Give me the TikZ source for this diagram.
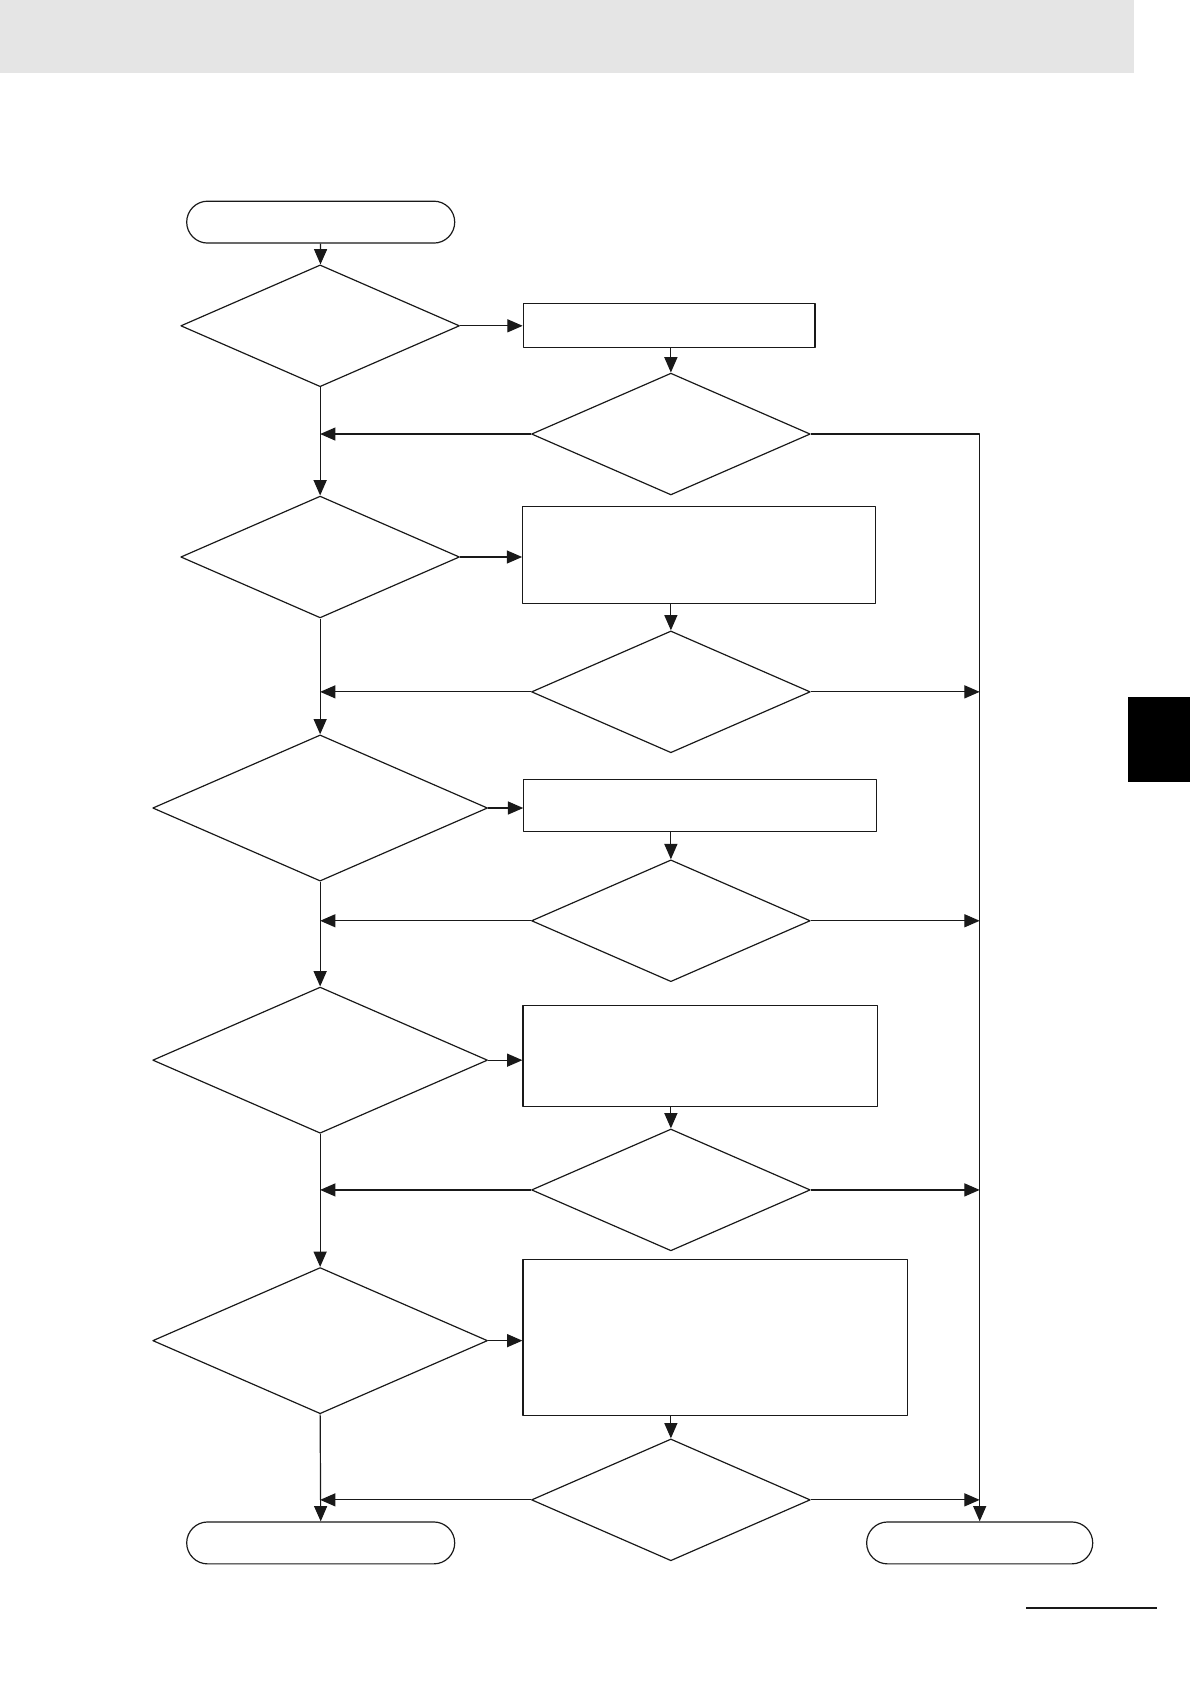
\documentclass[tikz,border=0pt]{standalone}
\usetikzlibrary{shapes.geometric,arrows.meta,positioning}
\begin{document}
\begin{tikzpicture}[line join=round, line width=0.6pt, draw=black!90, >={Triangle[length=2.7mm,width=2.3mm]},
	dec/.style={diamond, draw, inner sep=0pt, minimum width=4.92cm, minimum height=2.15cm},
	decw/.style={dec, minimum width=5.91cm, minimum height=2.58cm},
	act/.style={draw, inner sep=0pt},
	term/.style={draw, rounded corners=0.37cm, inner sep=0pt, minimum width=4.73cm, minimum height=0.74cm}]
	\useasboundingbox (0,0) rectangle (21,-29.72);
	\fill[black!10] (0,0) rectangle (20.01,-1.29);
	\fill[black] (19.91,-12.30) rectangle (21,-13.80);
	\draw[line width=0.8pt] (18.11,-28.38)--(20.42,-28.38);
	% left column
	\node[term] (start) at (5.66,-3.92) {};
	\node[dec] (q1) at (5.65,-5.75) {};
	\node[dec] (q2) at (5.65,-9.83) {};
	\node[decw] (q3) at (5.65,-14.26) {};
	\node[decw] (q4) at (5.65,-18.71) {};
	\node[decw] (q5) at (5.65,-23.66) {};
	\node[term] (endl) at (5.66,-27.23) {};
	% middle column
	\node[act, minimum width=5.15cm, minimum height=0.78cm] (s1) at (11.81,-5.74) {};
	\node[act, minimum width=6.23cm, minimum height=1.71cm] (s2) at (12.34,-9.80) {};
	\node[act, minimum width=6.23cm, minimum height=0.92cm] (s3) at (12.36,-14.22) {};
	\node[act, minimum width=6.26cm, minimum height=1.78cm] (s4) at (12.36,-18.64) {};
	\node[act, minimum width=6.78cm, minimum height=2.75cm] (s5) at (12.62,-23.61) {};
	\node[dec] (r1) at (11.84,-7.66) {};
	\node[dec] (r2) at (11.84,-12.21) {};
	\node[dec] (r3) at (11.84,-16.25) {};
	\node[dec] (r4) at (11.84,-21.00) {};
	\node[dec] (r5) at (11.84,-26.47) {};
	% right end
	\node[term, minimum width=3.99cm] (endr) at (17.29,-27.23) {};
	% connectors
	\draw[->] (start) -- (q1);
	\foreach \i/\j in {1/2,2/3,3/4,4/5} \draw[->] (q\i.south) -- (q\j.north);
	\draw[->] (q5.south) -- (endl.north);
	\foreach \i in {1,...,5} {
		\draw[->] (q\i.east) -- (q\i.east -| s\i.west);
		\draw[->] (s\i.south -| r\i) -- (r\i.north);
		\draw[->] (r\i.west) -- (r\i.west -| q\i);
	}
	\draw[->] (r1.east) -| (endr.north);
	\foreach \i in {2,...,5} \draw[->] (r\i.east) -- (r\i.east -| endr);
\end{tikzpicture}
\end{document}
